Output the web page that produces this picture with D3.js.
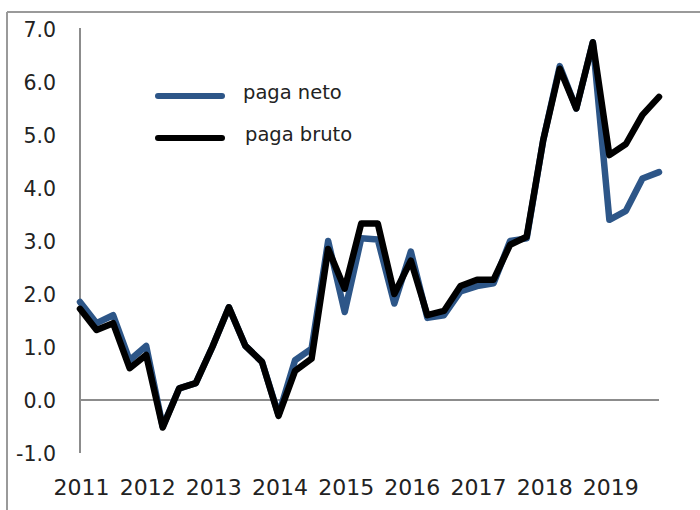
<!DOCTYPE html>
<html>
<head>
<meta charset="utf-8">
<script src="https://cdn.jsdelivr.net/npm/d3@7"></script>
<style>
  html, body { margin: 0; padding: 0; background: #fff; }
  svg { display: block; }
</style>
</head>
<body>
<svg id="chart" width="700" height="510"></svg>
<script>
const quarters = [];
const years = ["2011","2012","2013","2014","2015","2016","2017","2018","2019"];
years.forEach(y => ["Q1","Q2","Q3","Q4"].forEach(q => quarters.push(y + q)));

const pagaNeto = [1.85, 1.45, 1.6, 0.75, 1.02, -0.5, 0.22, 0.32, 1.0, 1.75, 1.02, 0.72, -0.28, 0.75, 0.97, 3.0, 1.66, 3.05, 3.03, 1.82, 2.8, 1.55, 1.6, 2.05, 2.15, 2.2, 3.0, 3.05, 4.9, 6.3, 5.5, 6.75, 3.4, 3.57, 4.18, 4.3];
const pagaBruto = [1.72, 1.32, 1.45, 0.6, 0.85, -0.52, 0.22, 0.32, 1.0, 1.75, 1.02, 0.72, -0.3, 0.55, 0.78, 2.85, 2.1, 3.33, 3.33, 2.0, 2.63, 1.6, 1.68, 2.15, 2.27, 2.27, 2.93, 3.08, 4.9, 6.25, 5.5, 6.75, 4.62, 4.83, 5.38, 5.72];
const yTicks = [7, 6, 5, 4, 3, 2, 1, 0, -1];
const seriesNames = ["paga neto", "paga bruto"];
const seriesColors = ["#2d5688", "#000000"];

const svg = d3.select("#chart");

// frame
svg.append("line").attr("x1", 7).attr("x2", 700).attr("y1", 12).attr("y2", 12)
  .attr("stroke", "#9a9a9a").attr("stroke-width", 2);
svg.append("line").attr("x1", 7).attr("x2", 7).attr("y1", 12).attr("y2", 510)
  .attr("stroke", "#9a9a9a").attr("stroke-width", 2);

const x = d3.scalePoint().domain(quarters).range([80, 659]);
const y = d3.scaleLinear().domain([-1, 7]).range([453, 29]);

// y axis line
svg.append("line").attr("x1", 80).attr("x2", 80).attr("y1", y(7) - 1).attr("y2", y(-1))
  .attr("stroke", "#8c8c8c").attr("stroke-width", 2);
// zero line
svg.append("line").attr("x1", 80).attr("x2", 659).attr("y1", y(0)).attr("y2", y(0))
  .attr("stroke", "#8c8c8c").attr("stroke-width", 2);

// y tick labels
const yAxis = d3.axisLeft(y).tickValues(yTicks).tickFormat(d3.format(".1f")).tickSize(0).tickPadding(0);
const yg = svg.append("g").attr("transform", "translate(56,0)").call(yAxis);
yg.select(".domain").remove();
yg.selectAll("text").attr("font-family", "DejaVu Sans, sans-serif").attr("font-size", 20.5)
  .attr("fill", "#222").attr("text-anchor", "end").attr("dy", "0.36em")
  .text(d => d3.format(".1f")(d).replace("−", "-"));

// x tick labels
const xAxis = d3.axisBottom(x).tickValues(quarters.filter((q, i) => i % 4 === 0))
  .tickFormat(q => q.slice(0, 4)).tickSize(0).tickPadding(0);
const xg = svg.append("g").attr("transform", "translate(1,479)").call(xAxis);
xg.select(".domain").remove();
xg.selectAll("text").attr("font-family", "DejaVu Sans, sans-serif").attr("font-size", 22)
  .attr("fill", "#222");

// lines
const line = d3.line().x((d, i) => x(quarters[i])).y(d => y(d)).curve(d3.curveLinear);
[pagaNeto, pagaBruto].forEach((s, k) => {
  svg.append("path").datum(s).attr("d", line)
    .attr("fill", "none").attr("stroke", seriesColors[k]).attr("stroke-width", 6.5)
    .attr("stroke-linejoin", "round").attr("stroke-linecap", "round");
});

// legend
const legY = [96, 138];
seriesNames.forEach((n, k) => {
  svg.append("line").attr("x1", 158).attr("x2", 222).attr("y1", legY[k]).attr("y2", legY[k])
    .attr("stroke", seriesColors[k]).attr("stroke-width", 6).attr("stroke-linecap", "round");
  svg.append("text").attr("x", 243 + k * 2).attr("y", legY[k] - 4).attr("dy", "0.35em")
    .attr("font-family", "DejaVu Sans, sans-serif").attr("font-size", 19.5).attr("fill", "#222")
    .text(n);
});
</script>
</body>
</html>
